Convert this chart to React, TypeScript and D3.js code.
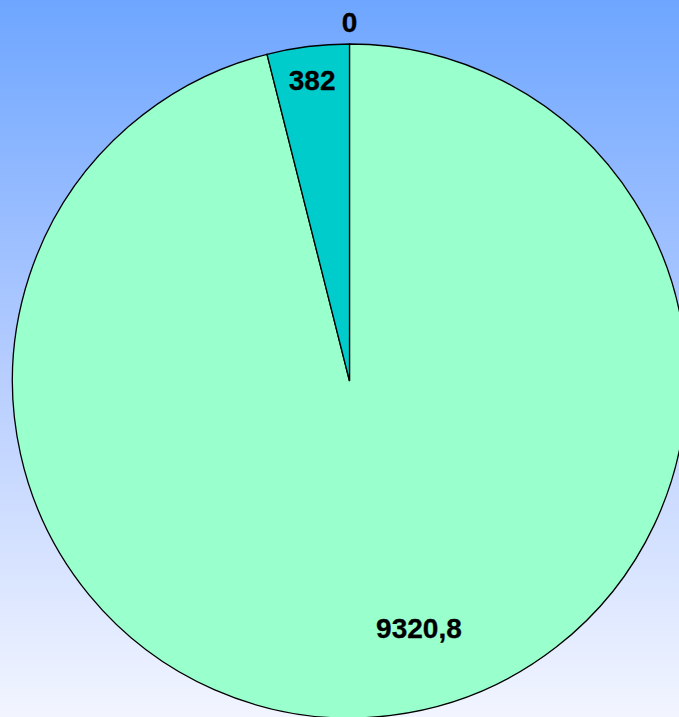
import React from "react";
import * as d3 from "d3";

const categories = ["A", "B", "C"];
const values = [0, 9320.8, 382];
const labels = ["0", "9320,8", "382"];
const colors = ["#33cccc", "#99ffcc", "#00cccc"];
// label placement: angle shift (deg) from slice mid, radius fraction
const labelAngleShift = [0, -8.6, 0];
const labelRadiusFrac = [1.065, 0.762, 0.9];

const W = 679;
const H = 717;

export default function App() {
  const cx = 349.5;
  const cy = 381;
  const R = 337;
  const pie = d3.pie<number>().sort(null).value((d) => d).startAngle(0).endAngle(2 * Math.PI);
  const arcs = pie(values);
  const arc = d3.arc<d3.PieArcDatum<number>>().innerRadius(0).outerRadius(R);
  return (
    <svg width={W} height={H} style={{ position: "fixed", left: 0, top: 0 }}>
      <defs>
        <linearGradient id="bg" x1="0" y1="0" x2="0" y2="1">
          <stop offset="0%" stopColor="#6ea6ff" />
          <stop offset="50%" stopColor="#b4ccff" />
          <stop offset="100%" stopColor="#f2f5ff" />
        </linearGradient>
      </defs>
      <rect x={0} y={0} width={W} height={H} fill="url(#bg)" />
      <g transform={`translate(${cx},${cy})`}>
        {arcs.map((a, i) =>
          a.endAngle - a.startAngle > 0 ? (
            <path key={categories[i]} d={arc(a) || ""} fill={colors[i]} stroke="#000" strokeWidth={1.3} />
          ) : null
        )}
        {arcs.map((a, i) => {
          const mid = (a.startAngle + a.endAngle) / 2 + (labelAngleShift[i] * Math.PI) / 180;
          const r = R * labelRadiusFrac[i];
          const x = r * Math.sin(mid);
          const y = -r * Math.cos(mid);
          return (
            <text
              key={"l" + i}
              x={x}
              y={y}
              textAnchor="middle"
              dominantBaseline="central"
              fontFamily="Liberation Sans, Arial, sans-serif"
              fontWeight="bold"
              fontSize={28}
              fill="#000"
              stroke="#000"
              strokeWidth={0.3}
            >
              {labels[i]}
            </text>
          );
        })}
      </g>
    </svg>
  );
}
